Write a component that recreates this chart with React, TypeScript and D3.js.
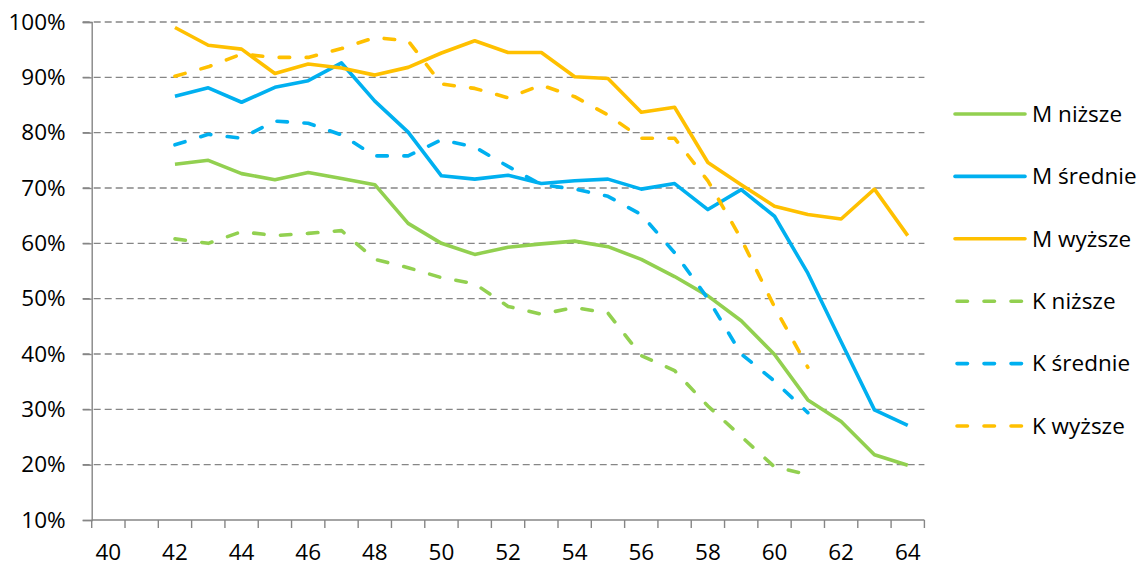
import React, { useEffect, useRef } from 'react'
import * as d3 from 'd3'

const ages = [40, 41, 42, 43, 44, 45, 46, 47, 48, 49, 50, 51, 52, 53, 54, 55, 56, 57, 58, 59, 60, 61, 62, 63, 64]
const ageLabels = ['40', '', '42', '', '44', '', '46', '', '48', '', '50', '', '52', '', '54', '', '56', '', '58', '', '60', '', '62', '', '64']
const yTicks = [10, 20, 30, 40, 50, 60, 70, 80, 90, 100]

const mNizsze = [null, null, 74.3, 75.0, 72.6, 71.5, 72.8, 71.7, 70.6, 63.6, 60.0, 58.0, 59.3, 59.9, 60.4, 59.4, 57.1, 54.0, 50.5, 46.0, 39.9, 31.7, 27.8, 21.8, 19.9]
const mSrednie = [null, null, 86.6, 88.1, 85.5, 88.2, 89.4, 92.6, 85.7, 80.1, 72.2, 71.6, 72.3, 70.8, 71.3, 71.6, 69.8, 70.8, 66.1, 69.7, 64.9, 54.6, 42.2, 29.9, 27.1]
const mWyzsze = [null, null, 99.0, 95.8, 95.1, 90.7, 92.4, 91.7, 90.4, 91.8, 94.4, 96.6, 94.5, 94.5, 90.1, 89.8, 83.7, 84.6, 74.6, 70.6, 66.7, 65.2, 64.4, 69.8, 61.4]
const kNizsze = [null, null, 60.8, 60.0, 62.1, 61.4, 61.8, 62.3, 57.1, 55.6, 53.8, 52.7, 48.6, 47.2, 48.4, 47.4, 39.7, 37.0, 30.6, 25.1, 19.6, 18.2, null, null, null]
const kSrednie = [null, null, 77.8, 79.7, 79.0, 82.1, 81.7, 79.6, 75.8, 75.8, 78.7, 77.4, 73.9, 70.6, 69.8, 68.5, 65.2, 58.3, 50.0, 40.0, 35.1, 29.4, null, null, null]
const kWyzsze = [null, null, 90.2, 91.9, 94.2, 93.6, 93.6, 95.2, 97.2, 96.6, 88.8, 88.0, 86.3, 88.6, 86.5, 83.2, 79.0, 79.0, 71.3, 60.8, 48.5, 37.6, null, null, null]

const seriesNames = ['M niższe', 'M średnie', 'M wyższe', 'K niższe', 'K średnie', 'K wyższe']
const seriesValues = [mNizsze, mSrednie, mWyzsze, kNizsze, kSrednie, kWyzsze]
const seriesColors = ['#92D050', '#00B0F0', '#FFC000', '#92D050', '#00B0F0', '#FFC000']
const seriesDashed = [false, false, false, true, true, true]

const App = () => {
  const svgRef = useRef<SVGSVGElement>(null)

  useEffect(() => {
    document.body.style.margin = '0'
    const width = 1144
    const height = 568
    const marginLeft = 91.7
    const plotRight = 924.4
    const marginTop = 22
    const plotBottom = 520
    const font = 'Open Sans, sans-serif'
    const fontSize = 22.5
    const gray = '#868686'

    const svg = d3.select(svgRef.current)
      .attr('width', width)
      .attr('height', height)
      .attr('viewBox', [0, 0, width, height].join(' '))
    svg.selectAll('*').remove()

    const x = d3.scaleBand<number>()
      .domain(ages)
      .range([marginLeft, plotRight])
      .padding(0)

    const y = d3.scaleLinear([10, 100], [plotBottom, marginTop])

    // horizontal dashed grid
    svg.append('g')
      .selectAll('line')
      .data(yTicks.filter(d => d > 10))
      .join('line')
      .attr('x1', marginLeft - 9)
      .attr('x2', plotRight)
      .attr('y1', d => y(d))
      .attr('y2', d => y(d))
      .attr('stroke', gray)
      .attr('stroke-width', 1.4)
      .attr('stroke-dasharray', '7 4')

    // y axis
    svg.append('g')
      .attr('transform', `translate(${marginLeft},0)`)
      .call(d3.axisLeft(y).tickValues(yTicks).tickSize(9).tickPadding(17).tickFormat(d => `${d}%`))
      .call(g => g.select('.domain').attr('stroke', gray).attr('stroke-width', 1.4))
      .call(g => g.selectAll('.tick line').attr('stroke', gray).attr('stroke-width', 1.4))
      .call(g => g.selectAll('.tick text')
        .attr('font-family', font)
        .attr('font-size', fontSize)
        .attr('fill', '#000'))

    // x axis with ticks between categories
    const xAxis = svg.append('g')
      .attr('transform', `translate(0,${plotBottom})`)
    xAxis.append('line')
      .attr('x1', marginLeft)
      .attr('x2', plotRight)
      .attr('stroke', gray)
      .attr('stroke-width', 1.4)
    xAxis.selectAll('line.tk')
      .data(ages.concat([ages[ages.length - 1] + 1]))
      .join('line')
      .attr('class', 'tk')
      .attr('x1', (d, i) => i < ages.length ? x(d)! : plotRight)
      .attr('x2', (d, i) => i < ages.length ? x(d)! : plotRight)
      .attr('y1', 0)
      .attr('y2', 8)
      .attr('stroke', gray)
      .attr('stroke-width', 1.4)
    xAxis.selectAll('text')
      .data(ages)
      .join('text')
      .attr('x', d => x(d)! + x.bandwidth() / 2)
      .attr('y', 40)
      .attr('text-anchor', 'middle')
      .attr('font-family', font)
      .attr('font-size', fontSize)
      .attr('fill', '#000')
      .text((d, i) => ageLabels[i])

    const line = d3.line<number | null>()
      .defined(d => d != null)
      .x((d, i) => x(ages[i])! + x.bandwidth() / 2)
      .y(d => y(d as number))

    seriesValues.forEach((vals, i) => {
      svg.append('path')
        .attr('fill', 'none')
        .attr('stroke', seriesColors[i])
        .attr('stroke-width', 3.6)
        .attr('stroke-linejoin', 'round')
        .attr('stroke-linecap', seriesDashed[i] ? 'round' : 'butt')
        .attr('stroke-dasharray', seriesDashed[i] ? '10.5 16.5' : null)
        .attr('d', line(vals))
    })

    // legend
    const legend = svg.append('g')
    seriesNames.forEach((name, i) => {
      const ly = 114 + i * 62.4
      legend.append('line')
        .attr('x1', seriesDashed[i] ? 957 : 955)
        .attr('x2', seriesDashed[i] ? 1023 : 1025)
        .attr('y1', ly)
        .attr('y2', ly)
        .attr('stroke', seriesColors[i])
        .attr('stroke-width', 3.6)
        .attr('stroke-linecap', 'round')
        .attr('stroke-dasharray', seriesDashed[i] ? '10.5 16.5' : null)
      legend.append('text')
        .attr('x', 1032)
        .attr('y', ly)
        .attr('dy', '0.35em')
        .attr('font-family', font)
        .attr('font-size', fontSize)
        .attr('fill', '#000')
        .text(name)
    })
  }, [])

  return <svg ref={svgRef} style={{ display: 'block' }} />
}

export default App
